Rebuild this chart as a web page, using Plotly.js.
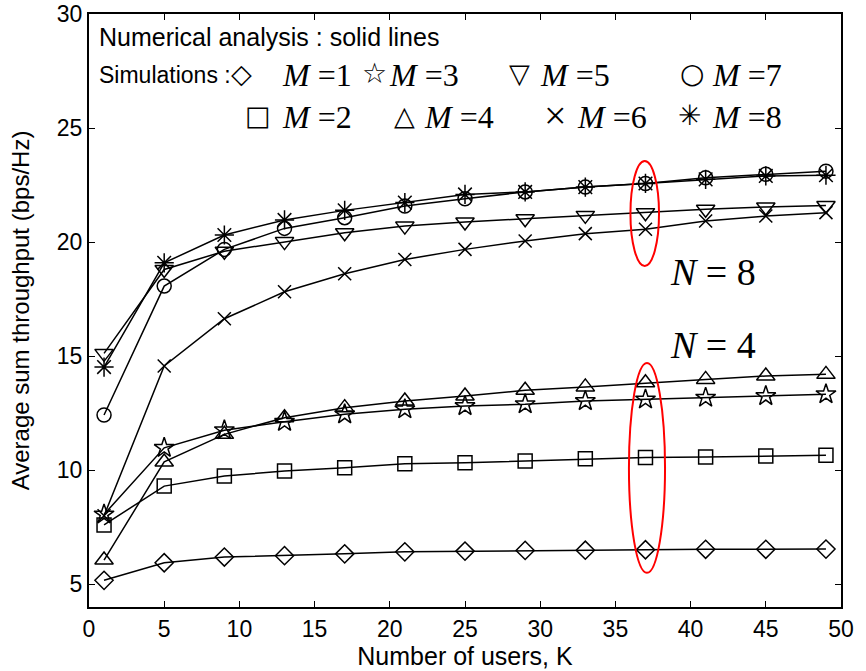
<!DOCTYPE html>
<html>
<head>
<meta charset="utf-8">
<script src="https://cdn.plot.ly/plotly-3.0.1.min.js"></script>
<style>html,body{margin:0;padding:0;background:#fff;}#chart{width:866px;height:671px;}</style>
</head>
<body>
<div id="chart"></div>
<script>
// Number of users K
const users = [1, 5, 9, 13, 17, 21, 25, 29, 33, 37, 41, 45, 49];
// N = 4
const m1 = [5.17, 5.94, 6.19, 6.25, 6.33, 6.42, 6.45, 6.48, 6.49, 6.51, 6.53, 6.53, 6.54];
const m2 = [7.60, 9.30, 9.74, 9.96, 10.11, 10.28, 10.33, 10.40, 10.50, 10.55, 10.58, 10.62, 10.65];
const m3 = [8.06, 10.98, 11.75, 12.12, 12.45, 12.67, 12.81, 12.89, 13.03, 13.10, 13.18, 13.25, 13.33];
const m4 = [6.06, 10.36, 11.57, 12.30, 12.74, 13.03, 13.25, 13.50, 13.65, 13.83, 13.98, 14.13, 14.20];
// N = 8
const m5 = [15.12, 18.80, 19.60, 20.02, 20.41, 20.70, 20.88, 21.02, 21.17, 21.29, 21.44, 21.54, 21.60];
const m6 = [8.00, 14.57, 16.64, 17.82, 18.61, 19.24, 19.68, 20.05, 20.37, 20.56, 20.92, 21.14, 21.29];
const m7 = [12.42, 18.07, 19.68, 20.60, 21.07, 21.58, 21.90, 22.20, 22.41, 22.57, 22.82, 22.97, 23.11];
const m8 = [14.52, 19.09, 20.31, 20.97, 21.39, 21.73, 22.09, 22.20, 22.41, 22.57, 22.75, 22.90, 22.93];

const seriesNames = ['M = 1', 'M = 2', 'M = 3', 'M = 4', 'M = 5', 'M = 6', 'M = 7', 'M = 8'];
const seriesVals = [m1, m2, m3, m4, m5, m6, m7, m8];
const symbols = ['diamond-open', 'square-open', 'star-open', 'triangle-up-open',
                 'triangle-down-open', 'x-thin-open', 'circle-open', 'asterisk-open'];
const sizes = [14, 14, 15, 16, 16, 13, 14, 16];

const xTicks = [0, 5, 10, 15, 20, 25, 30, 35, 40, 45, 50];
const yTicks = [5, 10, 15, 20, 25, 30];

const traces = seriesVals.map((v, i) => ({
  x: users, y: v, name: seriesNames[i], type: 'scatter', mode: 'lines+markers',
  line: {color: '#000', width: 1.5},
  marker: {symbol: symbols[i], size: sizes[i], color: '#000', line: {color: '#000', width: 1.5}},
  showlegend: false, cliponaxis: false
}));

const sans = 'Liberation Sans, Arial, sans-serif';
const serif = 'Liberation Serif, Times New Roman, serif';
const sym = 'DejaVu Sans, sans-serif';

function txt(x, y, t, size, font, anchor) {
  return {xref: 'paper', yref: 'paper', x: x, y: y, text: t, showarrow: false,
          xanchor: anchor || 'left', yanchor: 'middle', font: {family: font, size: size, color: '#000'}};
}
const r1 = 0.897, r2 = 0.826;
const annotations = [
  txt(0.010, 0.962, 'Numerical analysis : solid lines', 25, sans),
  txt(0.010, r1, 'Simulations :', 23, sans),
  txt(0.203, r1 + 0.002, '\u25C7', 27, sym, 'center'),
  txt(0.254, r1, '<i>M</i> =1', 32, serif),
  txt(0.380, r1 + 0.002, '\u2606', 28, sym, 'center'),
  txt(0.396, r1, '<i>M</i> =3', 32, serif),
  txt(0.573, r1 + 0.002, '\u25BD', 27, sym, 'center'),
  txt(0.597, r1, '<i>M</i> =5', 32, serif),
  txt(0.802, r1 + 0.002, '\u25CB', 28, sym, 'center'),
  txt(0.826, r1, '<i>M</i> =7', 32, serif),
  txt(0.225, r2 + 0.002, '\u25A1', 27, sym, 'center'),
  txt(0.254, r2, '<i>M</i> =2', 32, serif),
  txt(0.420, r2 + 0.002, '\u25B3', 27, sym, 'center'),
  txt(0.443, r2, '<i>M</i> =4', 32, serif),
  txt(0.620, r2 + 0.002, '\u00D7', 40, serif, 'center'),
  txt(0.646, r2, '<i>M</i> =6', 32, serif),
  txt(0.799, r2 + 0.002, '\u2733', 28, sym, 'center'),
  txt(0.826, r2, '<i>M</i> =8', 32, serif),
  {xref: 'x', yref: 'y', x: 38.5, y: 18.7, text: '<i>N</i> = 8', showarrow: false,
   xanchor: 'left', yanchor: 'middle', font: {family: serif, size: 38, color: '#000'}},
  {xref: 'x', yref: 'y', x: 38.5, y: 15.5, text: '<i>N</i> = 4', showarrow: false,
   xanchor: 'left', yanchor: 'middle', font: {family: serif, size: 38, color: '#000'}}
];

const shapes = [
  {type: 'circle', xref: 'x', yref: 'y', x0: 36.0, x1: 37.9, y0: 18.95, y1: 23.55,
   line: {color: '#ff0000', width: 2}},
  {type: 'circle', xref: 'x', yref: 'y', x0: 35.9, x1: 38.3, y0: 5.5, y1: 14.7,
   line: {color: '#ff0000', width: 2}}
];

const layout = {
  width: 866, height: 671,
  margin: {l: 89, r: 25, t: 14, b: 64},
  paper_bgcolor: '#fff', plot_bgcolor: '#fff',
  font: {family: sans, color: '#000'},
  xaxis: {
    range: [0, 50], tickvals: xTicks, ticktext: xTicks.map(String),
    ticks: 'inside', ticklen: 6, tickwidth: 1, tickcolor: '#000',
    showline: true, linecolor: '#000', linewidth: 2, mirror: 'ticks',
    showgrid: false, zeroline: false,
    tickfont: {family: sans, size: 23, color: '#000'},
    title: {text: 'Number of users, K', font: {family: sans, size: 25, color: '#000'}, standoff: 4}
  },
  yaxis: {
    range: [4, 30], tickvals: yTicks, ticktext: yTicks.map(String),
    ticks: 'inside', ticklen: 6, tickwidth: 1, tickcolor: '#000',
    showline: true, linecolor: '#000', linewidth: 2, mirror: 'ticks',
    showgrid: false, zeroline: false,
    tickfont: {family: sans, size: 23, color: '#000'},
    title: {text: 'Average sum throughput (bps/Hz)', font: {family: sans, size: 24, color: '#000'}, standoff: 20}
  },
  annotations: annotations,
  shapes: shapes
};

Plotly.newPlot('chart', traces, layout, {displayModeBar: false, staticPlot: true});
</script>
</body>
</html>
